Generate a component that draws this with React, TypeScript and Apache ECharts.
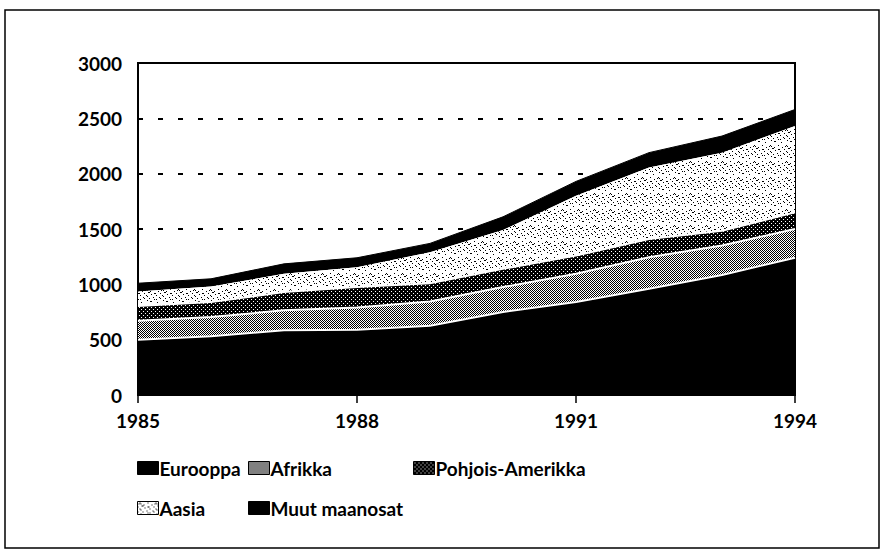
import React, { useEffect, useRef } from "react";
import * as echarts from "echarts";

// Data (thousands)
const years = ["1985", "1986", "1987", "1988", "1989", "1990", "1991", "1992", "1993", "1994"];
const eurooppa = [500, 530, 585, 590, 625, 750, 840, 960, 1085, 1240];
const afrikka = [170, 175, 180, 200, 220, 225, 255, 285, 265, 260];
const pohjoisAmerikka = [135, 135, 165, 185, 165, 165, 165, 165, 135, 150];
const aasia = [130, 140, 165, 180, 280, 350, 540, 645, 705, 780];
const muut = [75, 70, 90, 85, 80, 120, 130, 135, 150, 150];
const yTicks = { min: 0, max: 3000, interval: 500 };

const FONT = 'Lato, "Liberation Sans", sans-serif';

const AFRIKKA_TILE = ["#.", ".#"];
const POHJOIS_TILE = ["####", "#.##", "####", "###."];
const AASIA_TILE = [
  "................",
  "..#.......#.....",
  ".#.#............",
  "......#.......#.",
  "....##..........",
  "#.........##....",
  ".......#........",
  "..#.........#...",
  "...#............",
  ".........#.....#",
  "#....#..........",
  "..........#.#...",
  "...#............",
  "......##........",
  ".............#..",
  "................",
];

function makePattern(rows: string[], fg: string, bg: string) {
  const h = rows.length;
  const w = rows[0].length;
  const c = document.createElement("canvas");
  c.width = w;
  c.height = h;
  const ctx = c.getContext("2d")!;
  ctx.fillStyle = bg;
  ctx.fillRect(0, 0, w, h);
  ctx.fillStyle = fg;
  rows.forEach((r, y) => {
    r.split("").forEach((ch, x) => {
      if (ch === "#") ctx.fillRect(x, y, 1, 1);
    });
  });
  return { image: c, repeat: "repeat", imageWidth: w, imageHeight: h } as any;
}

export default function App() {
  const ref = useRef<HTMLDivElement>(null);
  useEffect(() => {
    if (!ref.current) return;
    const chart = echarts.init(ref.current, null, { renderer: "svg" });
    const pAfr = makePattern(AFRIKKA_TILE, "#000", "#fff");
    const pPoh = makePattern(POHJOIS_TILE, "#000", "#fff");
    const pAas = makePattern(AASIA_TILE, "#000", "#fff");

    const textStyle = { fontFamily: FONT, fontSize: 19, fontWeight: "bold" as const, color: "#000" };

    const defs = [
      { name: "Eurooppa", data: eurooppa, fill: "#000", line: "#fff", lw: 2, z: 7 },
      { name: "Afrikka", data: afrikka, fill: pAfr, line: "#fff", lw: 2, z: 6 },
      { name: "Pohjois-Amerikka", data: pohjoisAmerikka, fill: pPoh, line: "#fff", lw: 2, z: 5 },
      { name: "Aasia", data: aasia, fill: pAas, line: "#fff", lw: 0, z: 4 },
      { name: "Muut maanosat", data: muut, fill: "#000", line: "#000", lw: 1, z: 3 },
    ];

    const legendPos: Record<string, [number, number]> = {
      "Eurooppa": [137, 458],
      "Afrikka": [248, 458],
      "Pohjois-Amerikka": [413, 458],
      "Aasia": [137, 498],
      "Muut maanosat": [248, 498],
    };

    const legends = defs.map((d) => ({
      data: [
        {
          name: d.name,
          icon: "rect",
          itemStyle: { color: d.fill, borderColor: "#000", borderWidth: 1 },
        },
      ],
      left: legendPos[d.name][0],
      top: legendPos[d.name][1],
      padding: 0,
      itemWidth: 21,
      itemHeight: 13,
      itemGap: 0,
      selectedMode: false,
      textStyle: { ...textStyle, lineHeight: 20, padding: [0, 0, 0, -4] },
    }));

    chart.setOption({
      animation: false,
      backgroundColor: "#fff",
      graphic: [
        {
          type: "rect",
          shape: { x: 5, y: 10, width: 874, height: 538 },
          style: { fill: "none", stroke: "#000", lineWidth: 1.5 },
          silent: true,
        },
      ],
      legend: legends,
      grid: {
        left: 138,
        right: 88,
        top: 63,
        bottom: 165,
        show: true,
        borderColor: "#000",
        borderWidth: 2,
        backgroundColor: "transparent",
      },
      xAxis: {
        type: "category",
        boundaryGap: false,
        data: years,
        axisLine: { lineStyle: { color: "#000", width: 2 } },
        axisTick: { show: true, interval: 2, length: 8, lineStyle: { color: "#000", width: 1.5 } },
        axisLabel: { ...textStyle, interval: 2, margin: 16 },
        splitLine: { show: false },
      },
      yAxis: {
        type: "value",
        min: yTicks.min,
        max: yTicks.max,
        interval: yTicks.interval,
        axisLine: { show: true, lineStyle: { color: "#000", width: 2 } },
        axisTick: { show: false },
        axisLabel: { ...textStyle, margin: 16, formatter: (v: number) => String(v) },
        splitLine: { show: true, lineStyle: { color: "#000", width: 2, type: [5, 15] } },
      },
      series: defs.map((d) => ({
        name: d.name,
        type: "line",
        stack: "total",
        data: d.data,
        z: d.z,
        symbol: "none",
        showSymbol: false,
        smooth: false,
        itemStyle: { color: d.fill },
        lineStyle: { color: d.line, width: d.lw },
        areaStyle: { color: d.fill, opacity: 1 },
        emphasis: { disabled: true },
      })),
    });
    return () => chart.dispose();
  }, []);
  return (
    <div
      ref={ref}
      style={{ position: "absolute", left: 0, top: 0, width: 883, height: 560 }}
    />
  );
}
